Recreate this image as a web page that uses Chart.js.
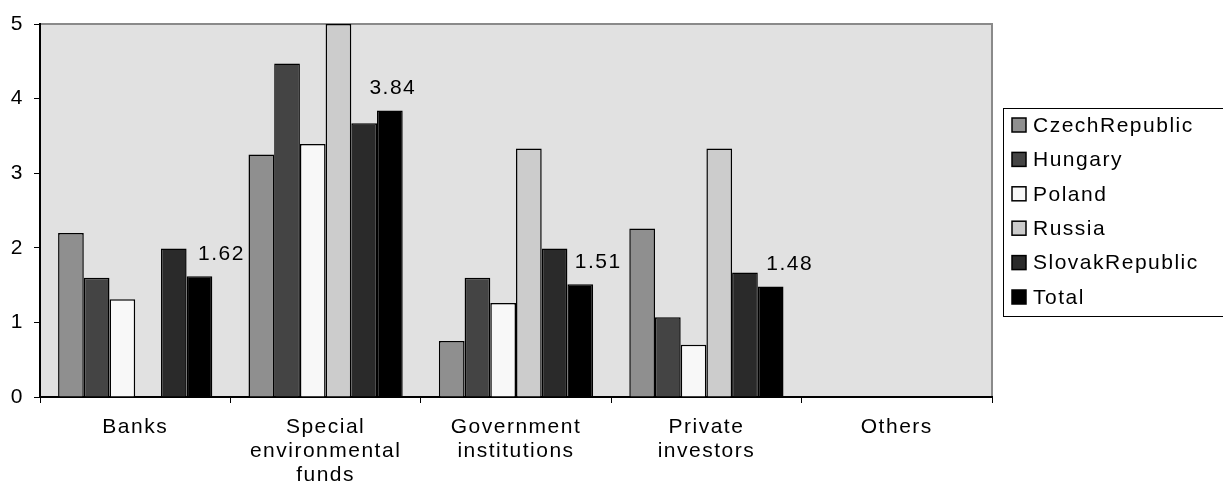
<!DOCTYPE html>
<html>
<head>
<meta charset="utf-8">
<script src="https://cdn.jsdelivr.net/npm/chart.js@4"></script>
<style>
  html, body { margin: 0; padding: 0; background: #fff; }
  #wrap { width: 1223px; height: 487px; }
</style>
</head>
<body>
<div id="wrap"><canvas id="chart" width="1223" height="487"></canvas></div>
<script>
const categories = ['Banks', ['Special', 'environmental', 'funds'], ['Government', 'institutions'], ['Private', 'investors'], 'Others'];
const czech = [2.20, 3.25, 0.75, 2.26, null];
const hungary = [1.60, 4.47, 1.60, 1.07, null];
const poland = [1.31, 3.39, 1.26, 0.70, null];
const russia = [null, 5.00, 3.33, 3.33, null];
const slovak = [1.99, 3.67, 1.99, 1.67, null];
const total = [1.62, 3.84, 1.51, 1.48, null];
const yTicks = [0, 1, 2, 3, 4, 5];

// horizontal nudge of the value labels on the Total bars
const labelShift = [21, 2, 17, 18];

const FONT = '"Liberation Sans", Arial, sans-serif';
const SPACING = '1.5px';

function ds(label, data, color) {
    return {
        label: label,
        data: data,
        backgroundColor: color,
        borderColor: '#000',
        borderWidth: 1.5,
        borderSkipped: 'bottom',
        categoryPercentage: 0.81,
        barPercentage: 1.0
    };
}

// Excel-like wide text everywhere
const spacing = {
    id: 'spacing',
    beforeInit(chart) { if ('letterSpacing' in chart.ctx) chart.ctx.letterSpacing = SPACING; },
    beforeDraw(chart) { if ('letterSpacing' in chart.ctx) chart.ctx.letterSpacing = SPACING; }
};

const plotBox = {
    id: 'plotBox',
    beforeDraw(chart) {
        const a = chart.chartArea, c = chart.ctx;
        c.save();
        c.fillStyle = '#e1e1e1';
        c.fillRect(a.left, a.top, a.right - a.left, a.bottom - a.top);
        c.strokeStyle = '#8a8a8a';
        c.lineWidth = 2;
        c.beginPath();
        c.moveTo(a.left, a.top);
        c.lineTo(a.right, a.top);
        c.lineTo(a.right, a.bottom);
        c.stroke();
        c.restore();
    }
};

const totalLabels = {
    id: 'totalLabels',
    afterDatasetsDraw(chart) {
        const idx = chart.data.datasets.length - 1;
        const meta = chart.getDatasetMeta(idx);
        const c = chart.ctx;
        c.save();
        c.font = '21px ' + FONT;
        c.fillStyle = '#000';
        c.textAlign = 'center';
        c.textBaseline = 'middle';
        meta.data.forEach(function (bar, i) {
            const v = chart.data.datasets[idx].data[i];
            if (v == null) return;
            c.fillText(v.toFixed(2), bar.x + (labelShift[i] || 0) + 1, bar.y - 22);
        });
        c.restore();
    }
};

const boxLegend = {
    id: 'boxLegend',
    afterDraw(chart) {
        const c = chart.ctx;
        const left = 1003, top = 108, bottom = 316;
        c.save();
        c.fillStyle = '#fff';
        c.fillRect(left, top, 1223 - left + 2, bottom - top);
        c.strokeStyle = '#000';
        c.lineWidth = 1;
        c.strokeRect(left + 0.5, top + 0.5, 1223 - left + 4, bottom - top);
        c.font = '21px ' + FONT;
        c.textBaseline = 'middle';
        c.textAlign = 'left';
        chart.data.datasets.forEach(function (d, i) {
            const y = 125 + i * 34.4;
            c.fillStyle = d.backgroundColor;
            c.fillRect(1012, y - 7, 14, 14);
            c.strokeStyle = '#000';
            c.lineWidth = 1.5;
            c.strokeRect(1012, y - 7, 14, 14);
            c.fillStyle = '#000';
            c.fillText(d.label, 1033, y + 1);
        });
        c.restore();
    }
};

new Chart(document.getElementById('chart').getContext('2d'), {
    type: 'bar',
    data: {
        labels: categories,
        datasets: [
            ds('CzechRepublic', czech, '#8f8f8f'),
            ds('Hungary', hungary, '#444444'),
            ds('Poland', poland, '#f8f8f8'),
            ds('Russia', russia, '#cccccc'),
            ds('SlovakRepublic', slovak, '#2a2a2a'),
            ds('Total', total, '#000000')
        ]
    },
    options: {
        responsive: false,
        animation: false,
        layout: { padding: { top: 24, right: 231, left: 0, bottom: 0 } },
        plugins: {
            legend: { display: false },
            tooltip: { enabled: false }
        },
        scales: {
            x: {
                offset: true,
                grid: { offset: true, drawOnChartArea: false, color: '#000', tickLength: 6, tickWidth: 1 },
                border: { color: '#000', width: 2 },
                ticks: { color: '#000', font: { family: FONT, size: 21, lineHeight: 1.14 }, maxRotation: 0, autoSkip: false, padding: 12 },
                afterFit(axis) { axis.height = 90; }
            },
            y: {
                min: 0,
                max: 5,
                afterBuildTicks(axis) { axis.ticks = yTicks.map(v => ({ value: v })); },
                grid: { drawOnChartArea: false, color: '#000', tickLength: 6 },
                border: { color: '#000', width: 2 },
                ticks: { color: '#000', font: { family: FONT, size: 21 }, padding: 10 },
                afterFit(axis) { axis.width = 40; }
            }
        }
    },
    plugins: [spacing, plotBox, totalLabels, boxLegend]
});
</script>
</body>
</html>
